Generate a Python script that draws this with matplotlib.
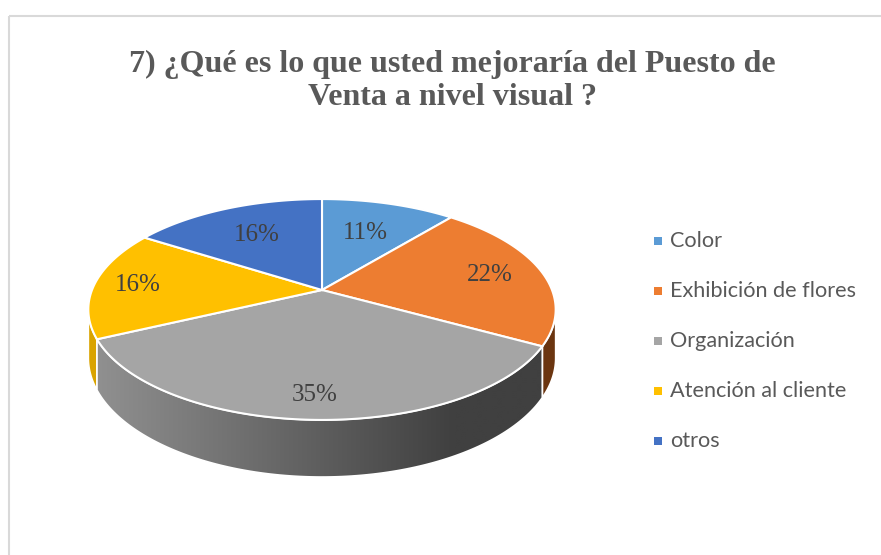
import numpy as np
import matplotlib
matplotlib.use("Agg")
import matplotlib.pyplot as plt
from matplotlib.patches import Polygon, Rectangle

# data
categories = ["Color", "Exhibición de flores", "Organización",
              "Atención al cliente", "otros"]
values = [11, 22, 35, 16, 16]
pct_labels = ["11%", "22%", "35%", "16%", "16%"]
title = "7) ¿Qué es lo que usted mejoraría del Puesto de\nVenta a nivel visual ?"

# styles
top_colors = ["#5B9BD5", "#ED7D31", "#A5A5A5", "#FFC000", "#4472C4"]
side_colors = ["#3D6E9C", "#6B3510", "#6E6E6E", "#D9A300", "#2F5597"]
label_r = [0.62, 0.76, 0.84, 0.81, 0.65]

# pie geometry in pixel space (perspective tilt)
CX, CY = 322, 290
RX, RY = 230, 107
K = 0.1765
H = 47


def proj(X, Y, Z=0.0):
    f = 1.0 / (1.0 + K * Y)
    return CX + RX * X * f, CY - (RY * Y + H * Z) * f


def arc(a0, a1, Z=0.0, r=1.0, n=120):
    t = np.radians(np.linspace(a0, a1, n))
    return np.column_stack(proj(r * np.cos(t), r * np.sin(t), Z))


fig = plt.figure(figsize=(8.81, 5.55), dpi=100)
ax = fig.add_axes([0, 0, 1, 1])
ax.set_xlim(0, 881)
ax.set_ylim(555, 0)
ax.axis("off")

ax.add_patch(Rectangle((8.5, 15.5), 900, 600, fill=False,
                       ec="#D9D9D9", lw=1.5))

# slice angles, clockwise from 12 o'clock
fracs = np.array(values) / sum(values)
edges = 90 - 360 * np.concatenate([[0], np.cumsum(fracs)])

# visible front side between left and right silhouettes
grid = np.linspace(-200, 20, 2201)
gx, _ = proj(np.cos(np.radians(grid)), np.sin(np.radians(grid)))
left_mask = grid < -90
theta_l = grid[left_mask][np.argmin(gx[left_mask])]
theta_r = grid[~left_mask][np.argmax(gx[~left_mask])]

for i in range(len(values)):
    a0, a1 = edges[i], edges[i + 1]
    lo, hi = max(min(a0, a1), theta_l), min(max(a0, a1), theta_r)
    if hi <= lo:
        continue
    pts = np.vstack([arc(hi, lo, 0), arc(lo, hi, -1)])
    poly = Polygon(pts, closed=True, fc=side_colors[i], ec="white",
                   lw=1.2, zorder=2)
    ax.add_patch(poly)
    if categories[i] == "Organización":
        # shaded side: light on the left, dark on the right
        xs = pts[:, 0]
        x0, x1 = xs.min(), xs.max()
        g = np.clip(np.linspace(0, 1, 300) / 0.8, 0, 1)
        c0 = np.array([0x90, 0x90, 0x90]) / 255
        c1 = np.array([0x40, 0x40, 0x40]) / 255
        img = (c0[None, :] * (1 - g[:, None]) + c1[None, :] * g[:, None])[None, :, :]
        im = ax.imshow(img, extent=[x0, x1, pts[:, 1].max(), pts[:, 1].min()],
                       aspect="auto", zorder=2.5, interpolation="bilinear")
        im.set_clip_path(poly)
        ax.add_patch(Polygon(pts, closed=True, fill=False, ec="white",
                             lw=1.2, zorder=2.6))

ax.set_xlim(0, 881)
ax.set_ylim(555, 0)

for i in range(len(values)):
    a0, a1 = edges[i], edges[i + 1]
    pts = np.vstack([[proj(0, 0)], arc(a0, a1, 0)])
    ax.add_patch(Polygon(pts, closed=True, fc=top_colors[i], ec="white",
                         lw=1.5, zorder=3))
    mid = np.radians((a0 + a1) / 2)
    r = label_r[i]
    lx, ly = proj(r * np.cos(mid), r * np.sin(mid))
    ax.text(lx, ly, pct_labels[i], ha="center", va="center", fontsize=18,
            family="Liberation Serif", color="#404040", zorder=4)

ax.text(452, 81, title, ha="center", va="center", fontsize=23,
        family="Liberation Serif", weight="bold", color="#595959",
        linespacing=1.2)

for i, name in enumerate(categories):
    y = 241 + 50 * i
    ax.add_patch(Rectangle((654, y - 4), 8, 8, fc=top_colors[i], ec="none"))
    ax.text(670, y, name, ha="left", va="center", fontsize=15.6,
            family="Lato", color="#595959")

fig.savefig("out.png", dpi=100)
